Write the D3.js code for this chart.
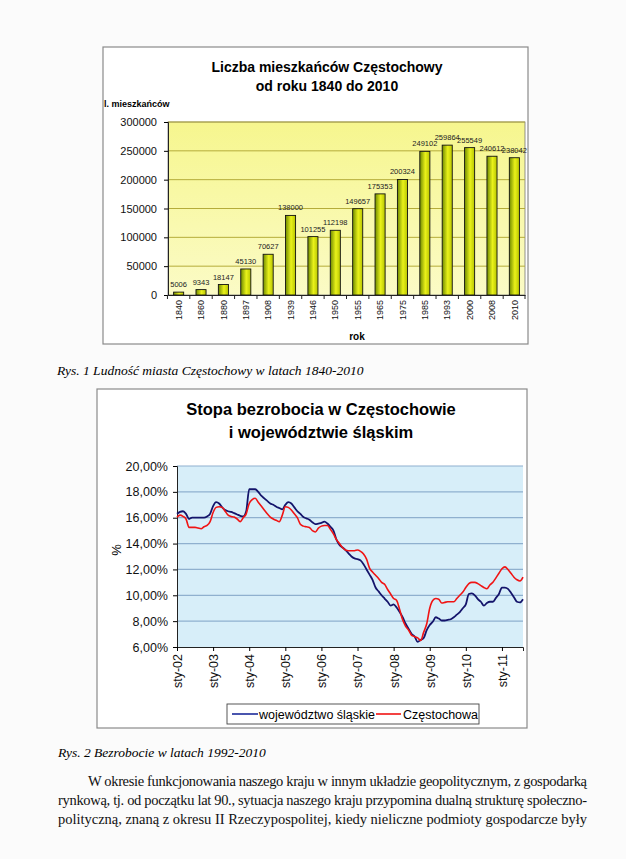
<!DOCTYPE html>
<html><head><meta charset="utf-8">
<script src="https://cdn.jsdelivr.net/npm/d3@7"></script>
<style>
body{margin:0;background:#fbfbfb;}
svg{display:block;}
</style></head>
<body>
<script>
// ---------- DATA ----------
const years = ["1840","1860","1880","1897","1908","1939","1946","1950","1955","1965","1975","1985","1993","2000","2008","2010"];
const population = [5006,9343,18147,45130,70627,138000,101255,112198,149657,175353,200324,249102,259864,255549,240612,238042];
const popTicks = [0,50000,100000,150000,200000,250000,300000];

const monthLabels = ["sty-02","sty-03","sty-04","sty-05","sty-06","sty-07","sty-08","sty-09","sty-10","sty-11"];
const slaskie = [16.3,16.45,16.5,16.3,15.9,16.0,16.0,16.0,16.0,16.0,16.1,16.3,16.9,17.2,17.1,16.8,16.6,16.5,16.45,16.35,16.25,16.15,16.1,16.5,
 18.2,18.2,18.2,18.0,17.7,17.5,17.3,17.1,17.0,16.85,16.75,16.65,17.0,17.2,17.1,16.8,16.5,16.3,16.05,15.95,15.85,15.65,15.5,15.55,
 15.6,15.7,15.55,15.3,15.0,14.3,13.9,13.7,13.5,13.25,13.0,12.85,12.8,12.7,12.4,12.0,11.6,11.2,10.6,10.3,10.0,9.75,9.5,9.2,
 9.3,9.05,8.7,8.3,7.8,7.4,7.0,6.8,6.4,6.55,6.7,7.3,7.7,7.95,8.3,8.2,8.05,8.05,8.1,8.15,8.3,8.5,8.7,9.0,
 9.3,10.1,10.15,10.0,9.7,9.5,9.2,9.4,9.5,9.5,9.8,10.1,10.6,10.6,10.5,10.2,9.85,9.5,9.45,9.7];
const czestochowa = [16.05,16.2,16.1,15.9,15.25,15.25,15.25,15.2,15.15,15.3,15.4,15.7,16.4,16.8,16.85,16.8,16.5,16.2,16.1,16.05,15.9,15.7,16.0,16.3,
 17.1,17.4,17.5,17.2,16.9,16.6,16.3,16.05,15.9,15.8,15.7,16.2,16.85,16.8,16.6,16.3,16.0,15.5,15.35,15.3,15.25,15.0,14.9,15.2,
 15.35,15.4,15.4,15.1,14.75,14.3,14.0,13.7,13.5,13.45,13.45,13.45,13.5,13.4,13.2,12.8,12.1,11.8,11.55,11.3,11.0,10.85,10.45,10.1,
 9.75,9.6,8.9,8.1,7.6,7.3,6.9,6.8,6.7,6.5,7.15,7.8,9.0,9.6,9.75,9.7,9.4,9.45,9.5,9.5,9.5,9.75,10.0,10.25,
 10.6,10.9,11.0,11.0,10.9,10.75,10.6,10.5,10.8,11.0,11.35,11.7,12.05,12.2,12.0,11.7,11.4,11.2,11.1,11.4];
const pctTicks = [6,8,10,12,14,16,18,20];

const W = 626, H = 859;
const svg = d3.select("body").append("svg").attr("width", W).attr("height", H);
const defs = svg.append("defs");

// ---------- CHART 1 ----------
const g1 = svg.append("g");
g1.append("rect").attr("x",103).attr("y",47).attr("width",425).attr("height",297)
  .attr("fill","#fff").attr("stroke","#8a8a8a").attr("stroke-width",1.2);

const p1 = {l:168, r:525, t:122, b:295};
const bgGrad = defs.append("linearGradient").attr("id","ybg").attr("x1",0).attr("y1",0).attr("x2",0).attr("y2",1);
bgGrad.append("stop").attr("offset","0%").attr("stop-color","#f6f68e");
bgGrad.append("stop").attr("offset","100%").attr("stop-color","#fbfbc6");
g1.append("rect").attr("x",p1.l).attr("y",p1.t).attr("width",p1.r-p1.l).attr("height",p1.b-p1.t)
  .attr("fill","url(#ybg)").attr("stroke","#777").attr("stroke-width",0.8);

const x1 = d3.scaleBand().domain(years).range([p1.l,p1.r]).paddingInner(0.55).paddingOuter(0.25);
const y1 = d3.scaleLinear().domain([0,300000]).range([p1.b,p1.t]);

g1.append("g").selectAll("line").data(popTicks.filter(d=>d>0)).join("line")
  .attr("x1",p1.l).attr("x2",p1.r).attr("y1",d=>y1(d)).attr("y2",d=>y1(d))
  .attr("stroke","#b5ac3a").attr("stroke-width",1);

const barGrad = defs.append("linearGradient").attr("id","barg").attr("x1",0).attr("y1",0).attr("x2",1).attr("y2",0);
barGrad.append("stop").attr("offset","0%").attr("stop-color","#6f8a00");
barGrad.append("stop").attr("offset","55%").attr("stop-color","#eaf21a");
barGrad.append("stop").attr("offset","100%").attr("stop-color","#b7c400");

g1.append("g").selectAll("rect").data(population).join("rect")
  .attr("x",(d,i)=>x1(years[i])).attr("width",x1.bandwidth())
  .attr("y",d=>y1(d)).attr("height",d=>y1(0)-y1(d))
  .attr("fill","url(#barg)").attr("stroke","#111").attr("stroke-width",0.9);

g1.append("g").selectAll("text").data(population).join("text")
  .attr("x",(d,i)=>x1(years[i])+x1.bandwidth()/2).attr("y",d=>y1(d)-5)
  .attr("text-anchor","middle").attr("font-family","Arial, Liberation Sans, sans-serif")
  .attr("font-size",7.5).attr("fill","#222").text(d=>d);

const ax1 = g1.append("g").attr("transform",`translate(${p1.l},0)`)
  .call(d3.axisLeft(y1).tickValues(popTicks).tickFormat(d3.format("d")).tickSize(4));
ax1.select(".domain").attr("stroke","#222");
ax1.selectAll("text").attr("font-family","Arial, Liberation Sans, sans-serif").attr("font-size",11).attr("fill","#111").attr("dx",-4);

const xa1 = g1.append("g").attr("transform",`translate(0,${p1.b})`)
  .call(d3.axisBottom(x1).tickSize(0));
xa1.select(".domain").attr("stroke","#222");
xa1.selectAll("text").attr("font-family","Arial, Liberation Sans, sans-serif").attr("font-size",9).attr("fill","#111")
  .attr("transform","rotate(-90)").attr("text-anchor","end").attr("dy","0.35em")
  .attr("x",-5).attr("y",0);
// category separator ticks
g1.append("g").selectAll("line").data(years.concat(["end"])).join("line")
  .attr("x1",(d,i)=> i<years.length ? x1(d)-x1.step()*x1.paddingInner()/2 : p1.r)
  .attr("x2",(d,i)=> i<years.length ? x1(d)-x1.step()*x1.paddingInner()/2 : p1.r)
  .attr("y1",p1.b).attr("y2",p1.b+4).attr("stroke","#222");

g1.append("text").attr("x",327).attr("y",72).attr("text-anchor","middle")
  .attr("font-family","Arial, Liberation Sans, sans-serif").attr("font-weight","bold").attr("font-size",14).text("Liczba mieszkańców Częstochowy");
g1.append("text").attr("x",327).attr("y",91).attr("text-anchor","middle")
  .attr("font-family","Arial, Liberation Sans, sans-serif").attr("font-weight","bold").attr("font-size",14).text("od roku 1840 do 2010");
g1.append("text").attr("x",104).attr("y",107)
  .attr("font-family","Arial, Liberation Sans, sans-serif").attr("font-weight","bold").attr("font-size",9).text("l. mieszkańców");
g1.append("text").attr("x",357).attr("y",340).attr("text-anchor","middle")
  .attr("font-family","Arial, Liberation Sans, sans-serif").attr("font-weight","bold").attr("font-size",10).text("rok");

svg.append("text").attr("x",57).attr("y",375)
  .attr("font-family","Liberation Serif, Times New Roman, serif").attr("font-style","italic").attr("font-size",13.5)
  .text("Rys. 1 Ludność miasta Częstochowy w latach 1840-2010");

// ---------- CHART 2 ----------
const g2 = svg.append("g");
g2.append("rect").attr("x",97).attr("y",389).attr("width",430).attr("height",339)
  .attr("fill","#fff").attr("stroke","#8a8a8a").attr("stroke-width",1.2);

const p2 = {l:177, r:523, t:466, b:647};
g2.append("rect").attr("x",p2.l).attr("y",p2.t).attr("width",p2.r-p2.l).attr("height",p2.b-p2.t)
  .attr("fill","#d7eef9");

const idx = d3.range(slaskie.length);
const x2 = d3.scalePoint().domain(idx).range([p2.l,p2.r]);
const y2 = d3.scaleLinear().domain([6,20]).range([p2.b,p2.t]);

g2.append("g").selectAll("line").data(pctTicks.filter(d=>d>6)).join("line")
  .attr("x1",p2.l).attr("x2",p2.r).attr("y1",d=>y2(d)).attr("y2",d=>y2(d))
  .attr("stroke","#8fb0cf").attr("stroke-width",1.2);

const fmtPct = d => d3.format(".2f")(d).replace(".",",") + "%";
const ay2 = g2.append("g").attr("transform",`translate(${p2.l},0)`)
  .call(d3.axisLeft(y2).tickValues(pctTicks).tickFormat(fmtPct).tickSize(4));
ay2.select(".domain").attr("stroke","#222");
ay2.selectAll("text").attr("font-family","Arial, Liberation Sans, sans-serif").attr("font-size",12.5).attr("fill","#111").attr("dx",-2);

const tickIdx = monthLabels.map((d,i)=>i*12);
const ax2 = g2.append("g").attr("transform",`translate(0,${p2.b})`)
  .call(d3.axisBottom(x2).tickValues(tickIdx).tickFormat((d,i)=>monthLabels[i]).tickSize(4));
ax2.select(".domain").attr("stroke","#222");
ax2.selectAll("text").attr("font-family","Arial, Liberation Sans, sans-serif").attr("font-size",12.5).attr("fill","#111")
  .attr("transform","rotate(-90)").attr("text-anchor","end").attr("x",-7).attr("y",0).attr("dy","0.35em");

const line2 = d3.line().x((d,i)=>x2(i)).y(d=>y2(d)).curve(d3.curveMonotoneX);
g2.append("path").datum(slaskie).attr("d",line2).attr("fill","none").attr("stroke","#14146b").attr("stroke-width",1.8);
g2.append("path").datum(czestochowa).attr("d",line2).attr("fill","none").attr("stroke","#f01414").attr("stroke-width",1.6);

g2.append("text").attr("x",321).attr("y",415).attr("text-anchor","middle")
  .attr("font-family","Arial, Liberation Sans, sans-serif").attr("font-weight","bold").attr("font-size",16.5).text("Stopa bezrobocia w Częstochowie");
g2.append("text").attr("x",321).attr("y",438).attr("text-anchor","middle")
  .attr("font-family","Arial, Liberation Sans, sans-serif").attr("font-weight","bold").attr("font-size",16.5).text("i województwie śląskim");
g2.append("text").attr("transform","translate(121,550) rotate(-90)").attr("text-anchor","middle")
  .attr("font-family","Arial, Liberation Sans, sans-serif").attr("font-size",13).text("%");

// legend
const lg = g2.append("g");
lg.append("rect").attr("x",227).attr("y",704).attr("width",252).attr("height",20).attr("fill","#fff").attr("stroke","#444").attr("stroke-width",0.9);
lg.append("line").attr("x1",232).attr("x2",258).attr("y1",714).attr("y2",714).attr("stroke","#1c2a9a").attr("stroke-width",1.6);
lg.append("text").attr("x",259).attr("y",718.5).attr("font-family","Arial, Liberation Sans, sans-serif").attr("font-size",12.5).text("województwo śląskie");
lg.append("line").attr("x1",376).attr("x2",401).attr("y1",714).attr("y2",714).attr("stroke","#f01414").attr("stroke-width",1.6);
lg.append("text").attr("x",403).attr("y",718.5).attr("font-family","Arial, Liberation Sans, sans-serif").attr("font-size",12.5).text("Częstochowa");

svg.append("text").attr("x",58).attr("y",757)
  .attr("font-family","Liberation Serif, Times New Roman, serif").attr("font-style","italic").attr("font-size",13.5)
  .text("Rys. 2 Bezrobocie w latach 1992-2010");

// ---------- BODY TEXT ----------
const para = [
 {x:88, t:"W okresie funkcjonowania naszego kraju w innym układzie geopolitycznym, z gospodarką"},
 {x:58, t:"rynkową, tj. od początku lat 90., sytuacja naszego kraju przypomina dualną strukturę społeczno-"},
 {x:58, t:"polityczną, znaną z okresu II Rzeczypospolitej, kiedy nieliczne podmioty gospodarcze były"}
];
svg.append("g").selectAll("text").data(para).join("text")
  .attr("x",d=>d.x).attr("y",(d,i)=>786+i*19)
  .attr("font-family","Liberation Serif, Times New Roman, serif").attr("font-size",14.5).attr("fill","#111")
  .attr("textLength",d=>587-d.x).attr("lengthAdjust","spacing")
  .text(d=>d.t);
</script>
</body></html>
